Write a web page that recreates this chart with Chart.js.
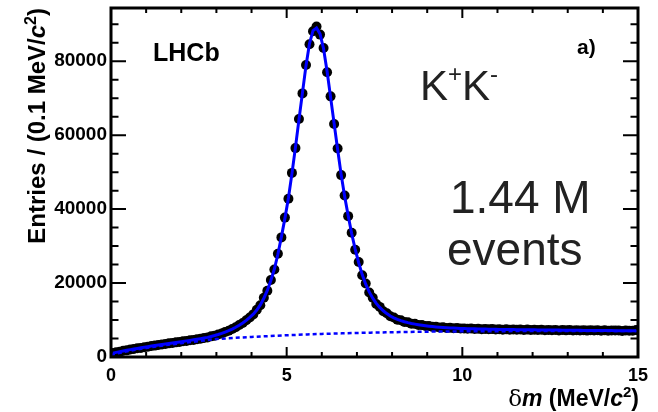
<!DOCTYPE html>
<html>
<head>
<meta charset="utf-8">
<script src="https://cdn.jsdelivr.net/npm/chart.js@4.4.1/dist/chart.umd.min.js"></script>
<style>
  html, body { margin: 0; padding: 0; background: #fff; }
  #wrap { width: 658px; height: 412px; }
</style>
</head>
<body>
<div id="wrap"><canvas id="chart" width="658" height="412"></canvas></div>
<script>
// 150 bins of 0.1 MeV/c2 from 0 to 15 (bin centres)
const binCenters = Array.from({ length: 150 }, (_, i) => +(0.05 + 0.1 * i).toFixed(2));

// entries per bin (black points)
const entries = [
  1080, 1270, 1430, 1680, 1800, 2020, 2140, 2350, 2460, 2660,
  2780, 2990, 3080, 3260, 3400, 3500, 3690, 3790, 3960, 4060,
  4250, 4340, 4530, 4630, 4830, 4940, 5170, 5290, 5580, 5780,
  6110, 6380, 6790, 7100, 7580, 8030, 8640, 9180, 9950, 10680,
  11520, 12800, 14000, 16050, 17900, 20850, 23650, 27950, 32350, 37700,
  42800, 49800, 56500, 64400, 71300, 79000, 84600, 88100, 89400, 87200,
  83600, 77000, 70500, 63000, 56400, 49200, 43700, 38100, 33600, 29000,
  25700, 22100, 19900, 17450, 16050, 14350, 13550, 12380, 11850, 11000,
  10700, 10100, 9950, 9460, 9390, 8990, 8960, 8640, 8630, 8380,
  8390, 8150, 8200, 7980, 8040, 7860, 7930, 7760, 7840, 7690,
  7740, 7620, 7700, 7560, 7650, 7510, 7580, 7490, 7540, 7420,
  7500, 7400, 7480, 7350, 7450, 7370, 7420, 7300, 7410, 7320,
  7380, 7290, 7360, 7230, 7330, 7260, 7310, 7200, 7300, 7210,
  7290, 7170, 7260, 7190, 7250, 7140, 7230, 7160, 7220, 7120,
  7210, 7090, 7200, 7150, 7160, 7060, 7170, 7110, 7130, 7300
];

// total fit (solid blue line)
const fitTotal = [
  1050, 1250, 1450, 1640, 1820, 1990, 2160, 2320, 2480, 2640,
  2800, 2950, 3100, 3240, 3380, 3520, 3660, 3800, 3940, 4080,
  4220, 4360, 4500, 4650, 4800, 4960, 5130, 5310, 5550, 5800,
  6080, 6400, 6750, 7120, 7550, 8050, 8600, 9200, 9900, 10700,
  11600, 12700, 14100, 15900, 18000, 20700, 23800, 27800, 32500, 37500,
  43000, 49600, 56700, 64200, 71500, 78800, 84800, 88300, 89000, 87400,
  83400, 77300, 70300, 63200, 56200, 49400, 43500, 38300, 33400, 29200,
  25500, 22300, 19700, 17600, 15900, 14500, 13400, 12500, 11750, 11100,
  10600, 10200, 9850, 9550, 9300, 9080, 8890, 8720, 8570, 8440,
  8320, 8220, 8130, 8050, 7980, 7920, 7870, 7820, 7780, 7740,
  7700, 7670, 7640, 7610, 7590, 7570, 7550, 7530, 7510, 7490,
  7470, 7460, 7440, 7430, 7410, 7400, 7390, 7370, 7360, 7350,
  7340, 7330, 7320, 7310, 7300, 7290, 7280, 7270, 7260, 7250,
  7240, 7230, 7220, 7210, 7200, 7200, 7190, 7180, 7170, 7160,
  7160, 7150, 7140, 7130, 7130, 7120, 7110, 7110, 7100, 7090
];

// background component (dotted blue line)
const bkgX = [0, 0.5, 1, 1.5, 2, 2.5, 3, 3.5, 4, 4.5, 5, 5.5, 6, 6.5, 7, 7.5,
  8, 8.5, 9, 9.5, 10, 10.5, 11, 11.5, 12, 12.5, 13, 13.5, 14, 14.5, 15];
const bkgY = [600, 1600, 2450, 3150, 3750, 4300, 4850, 5150, 5420, 5660, 5880, 6070,
  6240, 6380, 6500, 6610, 6700, 6780, 6850, 6900, 6940, 6970, 6990, 7000, 7005,
  7010, 7010, 7010, 7010, 7010, 7010];

// axes
const xTickValues = [0, 5, 10, 15];
const yTickValues = [0, 20000, 40000, 60000, 80000];
const xMinorStep = 1;
const yMinorStep = 5000;
const xRange = [0, 15];
const yRange = [0, 94400];

const FONT = '"Liberation Sans", Arial, Helvetica, sans-serif';

// tekst i flere stykker (fed, kursiv, hævet skrift)
function runsWidth(ctx, runs) {
  let w = 0;
  for (const r of runs) { ctx.font = r.font; w += ctx.measureText(r.text).width; }
  return w;
}
function drawRuns(ctx, runs, x, y) {
  let cx = x;
  for (const r of runs) {
    ctx.font = r.font;
    ctx.fillText(r.text, cx, y + (r.dy || 0));
    cx += ctx.measureText(r.text).width;
  }
}

// ramme og ROOT-agtige indadvendte tick-mærker
const frameTicks = {
  id: 'frameTicks',
  afterDatasetsDraw(chart) {
    const { ctx, chartArea: a, scales: { x, y } } = chart;
    ctx.save();
    ctx.strokeStyle = '#000';
    ctx.lineWidth = 2;
    ctx.beginPath();
    for (let v = yRange[0]; v <= yRange[1]; v += yMinorStep) {
      const py = y.getPixelForValue(v);
      const len = v % 20000 === 0 ? 15 : 7.5;
      ctx.moveTo(a.left, py); ctx.lineTo(a.left + len, py);
      ctx.moveTo(a.right, py); ctx.lineTo(a.right - len, py);
    }
    for (let v = xRange[0]; v <= xRange[1]; v += xMinorStep) {
      const px = x.getPixelForValue(v);
      const len = v % 5 === 0 ? 10 : 5;
      ctx.moveTo(px, a.bottom); ctx.lineTo(px, a.bottom - len);
      ctx.moveTo(px, a.top); ctx.lineTo(px, a.top + len);
    }
    ctx.stroke();
    ctx.lineWidth = 3;
    ctx.strokeRect(a.left, a.top, a.right - a.left, a.bottom - a.top);
    ctx.restore();
  },
  afterDraw(chart) {
    const ctx = chart.ctx;
    ctx.save();
    ctx.fillStyle = '#000';
    ctx.textBaseline = 'alphabetic';
    ctx.textAlign = 'left';

    // y-aksens titel (roteret, justeret mod toppen)
    const yRuns = [
      { text: 'Entries / (0.1 MeV/', font: 'bold 24px ' + FONT },
      { text: 'c', font: 'italic bold 24px ' + FONT },
      { text: '2', font: 'bold 16px ' + FONT, dy: -9 },
      { text: ')', font: 'bold 24px ' + FONT }
    ];
    const yw = runsWidth(ctx, yRuns);
    ctx.save();
    ctx.translate(45, 8);
    ctx.rotate(-Math.PI / 2);
    drawRuns(ctx, yRuns, -yw, 0);
    ctx.restore();

    // x-aksens titel (højrejusteret)
    const xRuns = [
      { text: 'δ', font: '23px "DejaVu Serif", serif' },
      { text: 'm', font: 'italic bold 23px ' + FONT },
      { text: ' (MeV/', font: 'bold 23px ' + FONT },
      { text: 'c', font: 'italic bold 23px ' + FONT },
      { text: '2', font: 'bold 15px ' + FONT, dy: -9 },
      { text: ')', font: 'bold 23px ' + FONT }
    ];
    const xw = runsWidth(ctx, xRuns);
    drawRuns(ctx, xRuns, 639 - xw, 406);

    // LHCb og a)
    ctx.font = 'bold 25px ' + FONT;
    ctx.fillText('LHCb', 153, 61);
    ctx.font = 'bold 21px ' + FONT;
    ctx.fillText('a)', 577, 54);

    // K+K-
    ctx.fillStyle = '#222';
    drawRuns(ctx, [
      { text: 'K', font: '42px ' + FONT },
      { text: '+', font: '24px ' + FONT, dy: -18 },
      { text: 'K', font: '42px ' + FONT },
      { text: '-', font: '24px ' + FONT, dy: -18 }
    ], 420, 100);

    ctx.font = '46px ' + FONT;
    ctx.fillText('1.44 M', 450, 213);
    ctx.fillText('events', 447, 265);
    ctx.restore();
  }
};

// fjerner den ekstra plads Chart.js reserverer til halve tick-labels
function noEdgePadding(s) {
  s.paddingTop = 0;
  s.paddingBottom = 0;
  s.paddingLeft = 0;
  s.paddingRight = 0;
}

const ctx = document.getElementById('chart').getContext('2d');
new Chart(ctx, {
  type: 'scatter',
  data: {
    datasets: [
      {
        label: 'Fit',
        data: binCenters.map((v, i) => ({ x: v, y: fitTotal[i] })),
        showLine: true,
        borderColor: '#0000ff',
        borderWidth: 3,
        pointRadius: 0,
        fill: false,
        order: 1
      },
      {
        label: 'Baggrund',
        data: bkgX.map((v, i) => ({ x: v, y: bkgY[i] })),
        showLine: true,
        borderColor: '#0000ff',
        borderWidth: 2.5,
        borderDash: [4, 3],
        cubicInterpolationMode: 'monotone',
        pointRadius: 0,
        fill: false,
        order: 2
      },
      {
        label: 'Data',
        data: binCenters.map((v, i) => ({ x: v, y: entries[i] })),
        pointRadius: 5,
        pointBackgroundColor: '#000',
        pointBorderColor: '#000',
        pointBorderWidth: 0,
        order: 3
      }
    ]
  },
  options: {
    responsive: false,
    animation: false,
    layout: { padding: { top: 8, right: 20, left: 0, bottom: 0 } },
    plugins: { legend: { display: false }, tooltip: { enabled: false } },
    scales: {
      x: {
        type: 'linear',
        min: xRange[0],
        max: xRange[1],
        grid: { display: false, drawTicks: false },
        border: { display: false },
        afterBuildTicks: s => { s.ticks = xTickValues.map(v => ({ value: v })); },
        afterFit: s => { s.height = 55; noEdgePadding(s); },
        ticks: {
          color: '#000',
          padding: 8,
          maxRotation: 0,
          font: { family: FONT, size: 18, weight: 'bold' },
          callback: v => String(v)
        }
      },
      y: {
        type: 'linear',
        min: yRange[0],
        max: yRange[1],
        grid: { display: false, drawTicks: false },
        border: { display: false },
        afterBuildTicks: s => { s.ticks = yTickValues.map(v => ({ value: v })); },
        afterFit: s => { s.width = 111; noEdgePadding(s); },
        ticks: {
          color: '#000',
          padding: 4,
          font: { family: FONT, size: 19, weight: 'bold' },
          callback: v => String(v)
        }
      }
    }
  },
  plugins: [frameTicks]
});
</script>
</body>
</html>
